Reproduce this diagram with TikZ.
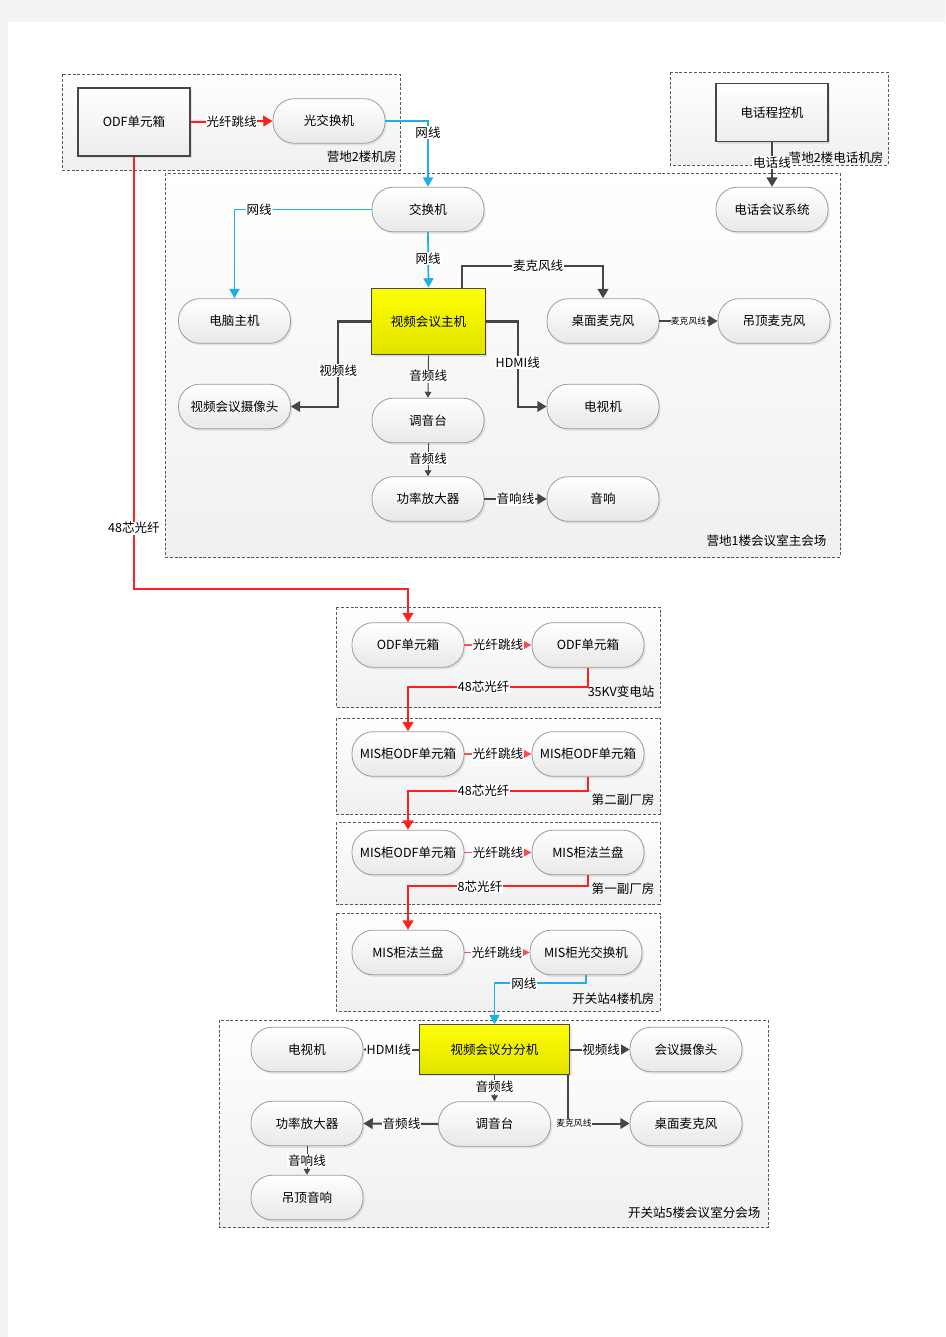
\documentclass[tikz,border=0pt]{standalone}
\usepackage{fontspec}
\usetikzlibrary{arrows.meta,shadows}
\newfontfamily\cjk{Noto Sans CJK SC}
\definecolor{pagegray}{HTML}{F3F3F3}
\definecolor{pillgray}{HTML}{9C9C9C}
\definecolor{wiregray}{HTML}{464646}
\definecolor{roomgray}{HTML}{5A5A5A}
\definecolor{fiberred}{HTML}{FF2020}
\definecolor{netblue}{HTML}{21AEE6}
\definecolor{hostyellow}{HTML}{FFFF00}
\definecolor{hostdark}{HTML}{E2E200}

\begin{document}
\begin{tikzpicture}[
	x=0.75pt,y=-0.75pt,
	every node/.style={font=\cjk\fontsize{9.4}{11}\selectfont,inner sep=1pt},
	pill/.style={rectangle,rounded corners=16pt,draw=pillgray,line width=0.6pt,
		top color=white,bottom color=black!9,minimum width=84pt,minimum height=33.5pt,
		drop shadow={shadow xshift=1.2pt,shadow yshift=-1.5pt,opacity=0.18}},
	unit/.style={rectangle,draw=wiregray,line width=0.9pt,
		top color=white,bottom color=black!7,minimum width=84pt,minimum height=51pt,
		drop shadow={shadow xshift=1.5pt,shadow yshift=-1.5pt,opacity=0.18}},
	host/.style={rectangle,draw=wiregray,line width=0.9pt,
		top color=hostyellow,bottom color=hostdark,minimum width=85pt,minimum height=50pt,
		drop shadow={shadow xshift=1.5pt,shadow yshift=-1.5pt,opacity=0.18}},
	room/.style={draw=roomgray,line width=0.6pt,dash pattern=on 2.2pt off 1.4pt,
		top color=white,bottom color=black!6},
	roomname/.style={anchor=east},
	lbl/.style={fill=white,inner sep=0.6pt},
	micro/.style={fill=white,inner sep=0.3pt,font=\cjk\fontsize{6.6}{7}\selectfont},
	cable/.style={draw=wiregray,line width=1.5pt,-{Triangle[length=7pt,width=8pt]}},
	audio/.style={draw=wiregray,line width=0.7pt,-{Triangle[length=4.5pt,width=5pt]}},
	smalltip/.style={-{Triangle[length=4pt,width=4.5pt]}},
	fiber/.style={draw=fiberred,line width=1.5pt,-{Triangle[length=7pt,width=8pt]}},
	patch/.style={draw=fiberred!80,line width=0.9pt,-{Triangle[length=6pt,width=6pt]}},
	net/.style={draw=netblue,line width=1.3pt,-{Triangle[length=7pt,width=7.5pt]}}
	]
	\fill[pagegray] (0,0) rectangle (945,1337);
	\fill[white] (8,22) rectangle (945,1337);
	\useasboundingbox (0,0) rectangle (945,1337);

	\draw[room] (62,74) rectangle (400,170);
	\draw[room] (670,72) rectangle (888,165);
	\draw[room] (165,173) rectangle (840,557);
	\draw[room] (336,607) rectangle (660,707);
	\draw[room] (336,718) rectangle (660,814);
	\draw[room] (336,822) rectangle (660,904);
	\draw[room] (336,913) rectangle (660,1011);
	\draw[room] (219,1020) rectangle (768,1227);

	\node[roomname] (nameA) at (398,157) {营地2楼机房};
	\node[roomname] (nameB) at (885,158) {营地2楼电话机房};
	\node[roomname] (nameC) at (828,541) {营地1楼会议室主会场};
	\node[roomname] (nameD) at (656,692) {35KV变电站};
	\node[roomname] (nameE) at (656,800) {第二副厂房};
	\node[roomname] (nameF) at (656,889) {第一副厂房};
	\node[roomname] (nameG) at (656,999) {开关站4楼机房};
	\node[roomname] (nameH) at (762,1213) {开关站5楼会议室分会场};

	\node[unit] (odf) at (134,122) {ODF单元箱};
	\node[pill] (ofsw) at (329,121) {光交换机};
	\node[unit,minimum height=44pt] (pbx) at (772,112.5) {电话程控机};

	\node[pill] (sw) at (428,209.5) {交换机};
	\node[pill] (telconf) at (772,209.5) {电话会议系统};
	\node[pill] (pc) at (234.5,321) {电脑主机};
	\node[host] (vchost) at (428.5,321.5) {视频会议主机};
	\node[pill] (deskmic) at (603,321) {桌面麦克风};
	\node[pill] (ceilmic) at (774,321) {吊顶麦克风};
	\node[pill] (cam) at (234.5,406.5) {视频会议摄像头};
	\node[pill] (mixer) at (428,420.5) {调音台};
	\node[pill] (tv) at (603,406.5) {电视机};
	\node[pill] (amp) at (428,499) {功率放大器};
	\node[pill] (spk) at (603,499) {音响};

	\node[pill] (odfA) at (408,645) {ODF单元箱};
	\node[pill] (odfB) at (588,645) {ODF单元箱};
	\node[pill] (misA) at (408,754) {MIS柜ODF单元箱};
	\node[pill] (misB) at (588,754) {MIS柜ODF单元箱};
	\node[pill] (misC) at (408,852.5) {MIS柜ODF单元箱};
	\node[pill] (flangeA) at (588,852.5) {MIS柜法兰盘};
	\node[pill] (flangeB) at (408,952.5) {MIS柜法兰盘};
	\node[pill] (missw) at (586,952.5) {MIS柜光交换机};

	\node[host,minimum width=113pt,minimum height=37pt] (vchost2) at (494.5,1049.5) {视频会议分分机};
	\node[pill] (tv2) at (307,1049.5) {电视机};
	\node[pill] (cam2) at (686,1049.5) {会议摄像头};
	\node[pill] (mixer2) at (494.5,1124) {调音台};
	\node[pill] (amp2) at (307,1123.5) {功率放大器};
	\node[pill] (deskmic2) at (686,1123.5) {桌面麦克风};
	\node[pill] (ceilspk) at (307,1197.5) {吊顶音响};

	\draw[fiber] (odf.east) -- node[lbl]{光纤跳线} (ofsw.west);
	\draw[net] (ofsw.east) -| node[lbl,pos=0.59]{网线} (sw.north);
	\draw[cable] (pbx.south) -- node[lbl,pos=0.45]{电话线} (telconf.north);
	\draw[net] (sw.west) -| node[lbl,pos=0.41]{网线} (pc.north);
	\draw[net] (sw.south) -- node[lbl,pos=0.48]{网线} (vchost.north);
	\draw[cable] ([xshift=25pt]vchost.north) -- ++(0,-22) -| node[lbl,pos=0.27]{麦克风线} (deskmic.north);
	\draw[cable] (deskmic.east) -- node[micro]{麦克风线} (ceilmic.west);
	\draw[cable] (vchost.west) -- ++(-33,0) |- node[lbl,pos=0.29]{视频线} (cam.east);
	\draw[cable] (vchost.east) -- ++(32,0) |- node[lbl,pos=0.24]{HDMI线} (tv.west);
	\draw[audio] (vchost.south) -- node[lbl,pos=0.49]{音频线} (mixer.north);
	\draw[audio] (mixer.south) -- node[lbl,pos=0.47]{音频线} (amp.north);
	\draw[cable] (amp.east) -- node[lbl]{音响线} (spk.west);

	\draw[fiber] (odf.south) -- node[lbl,pos=0.86]{48芯光纤} ++(0,432) -| (odfA.north);
	\draw[patch] (odfA.east) -- node[lbl]{光纤跳线} (odfB.west);
	\draw[fiber] (odfB.south) -- ++(0,19) -| node[lbl,pos=0.29]{48芯光纤} (misA.north);
	\draw[patch] (misA.east) -- node[lbl]{光纤跳线} (misB.west);
	\draw[fiber] (misB.south) -- ++(0,14) -| node[lbl,pos=0.29]{48芯光纤} (misC.north);
	\draw[patch] (misC.east) -- node[lbl]{光纤跳线} (flangeA.west);
	\draw[fiber] (flangeA.south) -- ++(0,11) -| node[lbl,pos=0.3]{8芯光纤} (flangeB.north);
	\draw[patch] (flangeB.east) -- node[lbl]{光纤跳线} (missw.west);
	\draw[net] (missw.south) -- ++(0,8) -| node[lbl,pos=0.34]{网线} (vchost2.north);

	\draw[cable,smalltip] (vchost2.west) -- node[lbl,pos=0.54]{HDMI线} (tv2.east);
	\draw[cable] (vchost2.east) -- node[lbl,pos=0.52]{视频线} (cam2.west);
	\draw[audio] (vchost2.south) -- node[lbl,pos=0.46]{音频线} (mixer2.north);
	\draw[cable] (mixer2.west) -- node[lbl,pos=0.49]{音频线} (amp2.east);
	\draw[cable] ([xshift=-2pt]vchost2.south east) |- node[micro,pos=0.55]{麦克风线} (deskmic2.west);
	\draw[audio] (amp2.south) -- node[lbl]{音响线} (ceilspk.north);
\end{tikzpicture}
\end{document}
